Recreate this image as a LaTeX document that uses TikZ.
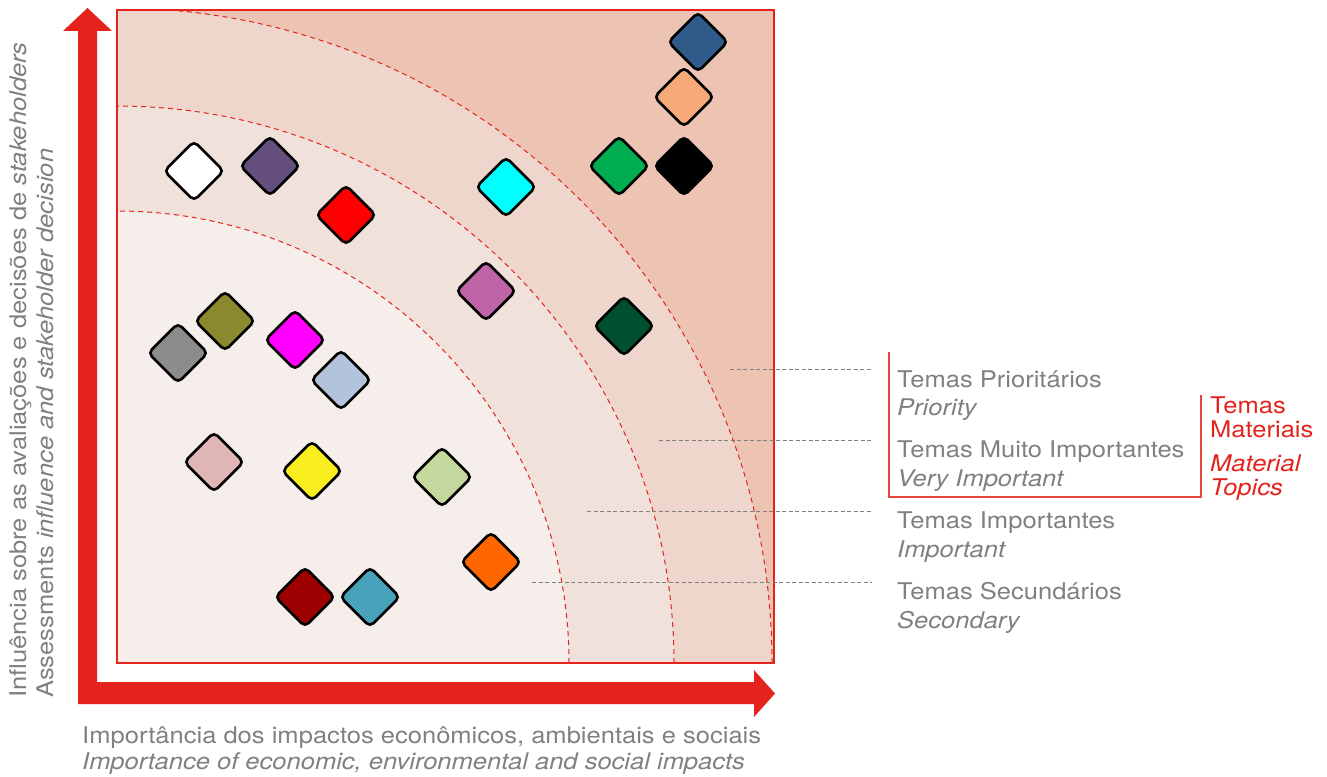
\documentclass[tikz,border=0pt]{standalone}
\usepackage{fontspec}
\setmainfont{TeX Gyre Heros}[FakeStretch=1.11]
\definecolor{vermelho}{HTML}{E3231C}
\definecolor{cinza}{HTML}{808080}
\definecolor{nen0}{HTML}{F6EEEA}
\definecolor{nen1}{HTML}{F0E1DB}
\definecolor{nen2}{HTML}{EFD6CC}
\definecolor{nen3}{HTML}{EDC3B3}
\definecolor{c01}{HTML}{FFFFFF}
\definecolor{c02}{HTML}{634E7E}
\definecolor{c03}{HTML}{FF0000}
\definecolor{c04}{HTML}{00FFFF}
\definecolor{c05}{HTML}{2F5A8A}
\definecolor{c06}{HTML}{F7A978}
\definecolor{c07}{HTML}{00AD50}
\definecolor{c08}{HTML}{000000}
\definecolor{c09}{HTML}{BF64A6}
\definecolor{c10}{HTML}{00502F}
\definecolor{c11}{HTML}{8C8A2F}
\definecolor{c12}{HTML}{8C8C8C}
\definecolor{c13}{HTML}{FF00FF}
\definecolor{c14}{HTML}{B4C3DC}
\definecolor{c15}{HTML}{DFB6B4}
\definecolor{c16}{HTML}{F9EC1F}
\definecolor{c17}{HTML}{C4D79C}
\definecolor{c18}{HTML}{FF6600}
\definecolor{c19}{HTML}{9C0000}
\definecolor{c20}{HTML}{48A3BA}
\begin{document}
\begin{tikzpicture}[x=1pt,y=-1pt,
	kc/.style={draw=black,line width=2.6pt,rectangle,rounded corners=5pt,minimum size=42pt,inner sep=0pt,rotate=45},
	txt/.style={font=\fontsize{23}{27}\selectfont,text=cinza,inner sep=0pt,anchor=base west},
	txtr/.style={txt,text=vermelho},
	leader/.style={draw=cinza,line width=1pt,dash pattern=on 4pt off 2.5pt},
	vong/.style={draw=vermelho,line width=1pt,dash pattern=on 5pt off 4pt}]
	\useasboundingbox (0,0) rectangle (1327,776);
	%Nen
	\coordinate (O) at (117,663);
	\begin{scope}
		\clip (117,10) rectangle (774,663);
		\fill[nen3] (117,10) rectangle (774,663);
		\fill[nen2] (O) circle (655pt);
		\fill[nen1] (O) circle (557pt);
		\fill[nen0] (O) circle (452pt);
		\draw[vong] (O) circle (655pt);
		\draw[vong] (O) circle (557pt);
		\draw[vong] (O) circle (452pt);
	\end{scope}
	\draw[draw=vermelho,line width=2pt] (117,10) rectangle (774,663);
	%Truc
	\fill[vermelho] (87.5,8) -- (112,31) -- (97,31) -- (97,682) -- (754,682) -- (754,670)
		-- (775,693.5) -- (754,717) -- (754,704) -- (78,704) -- (78,31) -- (63,31) -- cycle;
	%Cac o
	\node[kc,fill=c01] (o01) at (194,171) {};
	\node[kc,fill=c02] (o02) at (270,166) {};
	\node[kc,fill=c03] (o03) at (346,215) {};
	\node[kc,fill=c04] (o04) at (506,187) {};
	\node[kc,fill=c05] (o05) at (698,42) {};
	\node[kc,fill=c06] (o06) at (684,97) {};
	\node[kc,fill=c07] (o07) at (619,166) {};
	\node[kc,fill=c08] (o08) at (684,166) {};
	\node[kc,fill=c09] (o09) at (486,291) {};
	\node[kc,fill=c10] (o10) at (624,326) {};
	\node[kc,fill=c11] (o11) at (225,321) {};
	\node[kc,fill=c12] (o12) at (178,353) {};
	\node[kc,fill=c13] (o13) at (295,340) {};
	\node[kc,fill=c14] (o14) at (341,380) {};
	\node[kc,fill=c15] (o15) at (214,462) {};
	\node[kc,fill=c16] (o16) at (312,471) {};
	\node[kc,fill=c17] (o17) at (442,477) {};
	\node[kc,fill=c18] (o18) at (491,562) {};
	\node[kc,fill=c19] (o19) at (305,597) {};
	\node[kc,fill=c20] (o20) at (370,597) {};
	%Nhan
	\node[txt] (pri) at (897,387) {Temas Prioritários};
	\node[txt] (prie) at (897,415) {\itshape Priority};
	\node[txt] (mui) at (897,457) {Temas Muito Importantes};
	\node[txt] (muie) at (897,486) {\itshape Very Important};
	\node[txt] (imp) at (897,528) {Temas Importantes};
	\node[txt] (impe) at (897,557) {\itshape Important};
	\node[txt] (sec) at (897,599) {Temas Secundários};
	\node[txt] (sece) at (897,628) {\itshape Secondary};
	%Duong dan
	\coordinate (l1) at (730,369);
	\coordinate (l2) at (659,440);
	\coordinate (l3) at (587,511);
	\coordinate (l4) at (532,582);
	\draw[leader] (l1) -- ([xshift=-25pt]pri.west |- l1);
	\draw[leader] (l2) -- ([xshift=-25pt]mui.west |- l2);
	\draw[leader] (l3) -- ([xshift=-25pt]imp.west |- l3);
	\draw[leader] (l4) -- ([xshift=-25pt]sec.west |- l4);
	%Temas materiais
	\draw[draw=vermelho!85,line width=1.2pt] (889,352) -- (889,497) -- (1201,497) -- (1201,395);
	\node[txtr] (mat1) at (1210,413) {Temas};
	\node[txtr] (mat2) at (1210,437) {Materiais};
	\node[txtr] (mat3) at (1210,471) {\itshape Material};
	\node[txtr] (mat4) at (1210,495) {\itshape Topics};
	%Truc x
	\node[txt] (tx1) at (82,743) {Importância dos impactos econômicos, ambientais e sociais};
	\node[txt] (tx2) at (82,769) {\itshape Importance of economic, environmental and social impacts};
	%Truc y
	\node[txt,rotate=90] (ty1) at (26,698) {Influência sobre as avaliações e decisões de \textit{stakeholders}};
	\node[txt,rotate=90] (ty2) at (53,698) {Assessments \textit{influence and stakeholder decision}};
\end{tikzpicture}
\end{document}
